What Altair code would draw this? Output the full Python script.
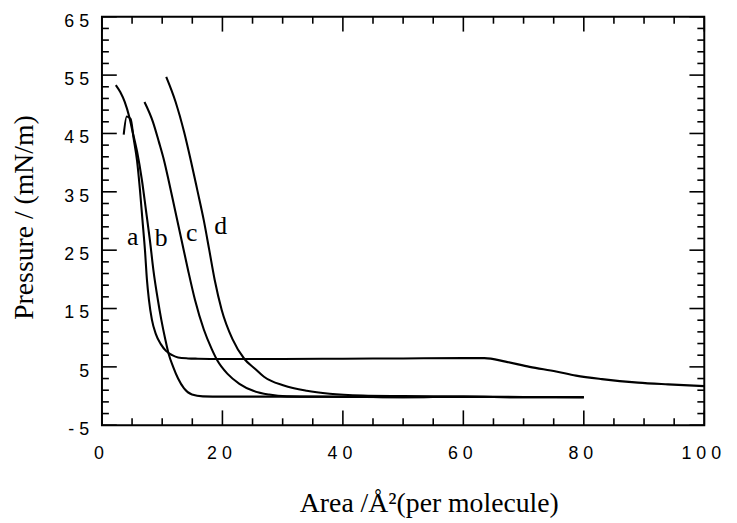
import altair as alt
import pandas as pd

# ---- data ----
series_names = ["a", "b", "c", "d"]

a_x = [3.61, 4.11, 4.76, 5.25, 5.83, 6.32, 6.73, 7.14, 7.47, 7.80, 8.29, 8.95, 9.77, 10.67, 11.66,
       12.64, 14.29, 15.93, 20, 30, 40, 50, 60, 63.5, 67, 71, 75.4, 78.7, 83, 89, 94, 100]
a_y = [44.8, 47.9, 47.5, 44.2, 40.3, 35.2, 30.1, 25.0, 19.9, 16.5, 13.1, 10.6, 8.9, 7.7, 7.0,
       6.6, 6.45, 6.4, 6.35, 6.35, 6.4, 6.45, 6.5, 6.5, 5.9, 5.0, 4.2, 3.5, 2.9, 2.3, 2.0, 1.7]

b_x = [2.30, 3.04, 3.78, 4.52, 5.09, 5.83, 6.65, 7.31, 7.96, 8.54, 9.28, 9.85, 10.51, 11.08, 11.82,
       12.64, 13.63, 14.94, 16.75, 20, 30, 40, 50, 60, 70, 80]
b_y = [53.3, 52.1, 50.4, 47.9, 45.3, 41.9, 36.9, 31.8, 26.7, 21.6, 16.5, 13.1, 9.75, 7.2, 5.0,
       3.0, 1.3, 0.25, -0.05, -0.1, -0.1, -0.15, -0.2, -0.15, -0.2, -0.2]

c_x = [7.06, 8.46, 9.44, 10.34, 11.08, 12.15, 13.22, 14.29, 15.44, 16.91, 18.23, 19.21, 20.85,
       22.82, 25.12, 27.75, 30.7, 35, 40, 50, 60, 70, 80]
c_y = [50.4, 47.0, 43.6, 40.25, 36.9, 31.8, 26.7, 21.6, 16.5, 11.4, 8.05, 6.0, 3.8,
       2.1, 0.9, 0.25, -0.05, -0.1, -0.1, -0.2, -0.1, -0.2, -0.2]

d_x = [10.67, 12.23, 13.63, 14.78, 15.85, 16.91, 17.82, 18.72, 19.87, 21.67, 23.65, 25.45, 26.9,
       30.2, 34.0, 37.8, 43.3, 50, 60, 70, 80]
d_y = [54.7, 50.4, 45.3, 40.25, 35.2, 30.1, 25.0, 19.9, 14.8, 9.75, 6.35, 4.65, 3.3,
       1.8, 0.9, 0.4, 0.1, 0.0, -0.1, -0.15, -0.2]

label_text = ["a", "b", "c", "d"]
label_x = [5.1, 9.85, 14.9, 19.7]
label_y = [27.2, 27.0, 27.9, 29.2]

x_domain = [0, 100]
y_domain = [-5, 65]
x_major = [0, 20, 40, 60, 80, 100]
x_major_labels = ["0", "2 0", "4 0", "6 0", "8 0", "1 0 0"]
x_minor = [5, 10, 15, 25, 30, 35, 45, 50, 55, 65, 70, 75, 85, 90, 95]
y_major = [-5, 5, 15, 25, 35, 45, 55, 65]
y_major_labels = ["- 5", "5", "1 5", "2 5", "3 5", "4 5", "5 5", "6 5"]
y_minor = [-3, -1, 1, 3, 7, 9, 11, 13, 17, 19, 21, 23, 27, 29, 31, 33, 37, 39, 41, 43,
           47, 49, 51, 53, 57, 59, 61, 63]

x_title = "Area /\u00c5\u00b2(per molecule)"
y_title = "Pressure / (mN/m)"

W, H = 609, 413

# ---- tables ----
rows = []
for name, xs, ys in zip(series_names, [a_x, b_x, c_x, d_x], [a_y, b_y, c_y, d_y]):
    for i, (xv, yv) in enumerate(zip(xs, ys)):
        rows.append({"series": name, "i": i, "area": xv, "pressure": yv})
df = pd.DataFrame(rows)
lab_df = pd.DataFrame({"lab": label_text, "area": label_x, "pressure": label_y})

SERIF = "Liberation Serif"
SANS = "Liberation Sans"
xs_ = alt.Scale(domain=x_domain, nice=False, zero=False)
ys_ = alt.Scale(domain=y_domain, nice=False, zero=False)


def X(field="area"):
    return alt.X(f"{field}:Q", scale=xs_, axis=None)


def Y(field="pressure"):
    return alt.Y(f"{field}:Q", scale=ys_, axis=None)


lines = alt.Chart(df).mark_line(
    color="black", strokeWidth=2.1, interpolate="monotone"
).encode(x=X(), y=Y(), detail="series:N", order="i:Q")

labels = alt.Chart(lab_df).mark_text(
    font=SERIF, fontSize=26, color="black", align="center", baseline="middle"
).encode(x=X(), y=Y(), text="lab:N")


def xticks(vals, length, top):
    d = pd.DataFrame({"area": vals})
    y0, y1 = (0, length) if top else (H, H - length)
    return alt.Chart(d).mark_rule(color="black", strokeWidth=1.6).encode(
        x=X(), y=alt.value(y0), y2=alt.value(y1))


def yticks(vals, length, right):
    d = pd.DataFrame({"pressure": vals})
    x0, x1 = (W, W - length) if right else (0, length)
    return alt.Chart(d).mark_rule(color="black", strokeWidth=1.6).encode(
        y=Y(), x=alt.value(x0), x2=alt.value(x1))


tick_layers = [
    xticks(x_major, 15, False), xticks(x_minor, 7, False),
    xticks(x_major, 15, True), xticks(x_minor, 7, True),
    yticks(y_major, 15, False), yticks(y_minor, 7, False),
    yticks(y_major, 15, True), yticks(y_minor, 7, True),
]

# tick labels (placed through the scales)
xlab_df = pd.DataFrame({"area": x_major, "pressure": [y_domain[0]] * len(x_major),
                        "t": x_major_labels})
ylab_df = pd.DataFrame({"area": [x_domain[0]] * len(y_major), "pressure": y_major,
                        "t": y_major_labels})
xlabels = alt.Chart(xlab_df).mark_text(
    font=SANS, fontSize=18, color="black", align="center", baseline="top", dy=20, dx=-3
).encode(x=X(), y=Y(), text="t:N")
ylabels = alt.Chart(ylab_df).mark_text(
    font=SANS, fontSize=18, color="black", align="right", baseline="middle", dx=-13, dy=5
).encode(x=X(), y=Y(), text="t:N")

# axis titles
xt = alt.Chart(pd.DataFrame({"t": [x_title]})).mark_text(
    font=SERIF, fontSize=28, color="black", align="center", baseline="alphabetic"
).encode(text="t:N", x=alt.value(331), y=alt.value(H + 88))
yt = alt.Chart(pd.DataFrame({"t": [y_title]})).mark_text(
    font=SERIF, fontSize=28, color="black", align="center", baseline="alphabetic", angle=270
).encode(text="t:N", x=alt.value(-70), y=alt.value(203))

chart = alt.layer(lines, labels, *tick_layers, xlabels, ylabels, xt, yt).properties(
    width=W, height=H,
    autosize=alt.AutoSizeParams(type="none"),
    padding={"left": 95, "top": 6, "right": 25, "bottom": 96},
    background="white",
).configure_view(
    stroke="black", strokeWidth=2
)

chart.save("out.html", embed_options={"renderer": "svg", "actions": False})
